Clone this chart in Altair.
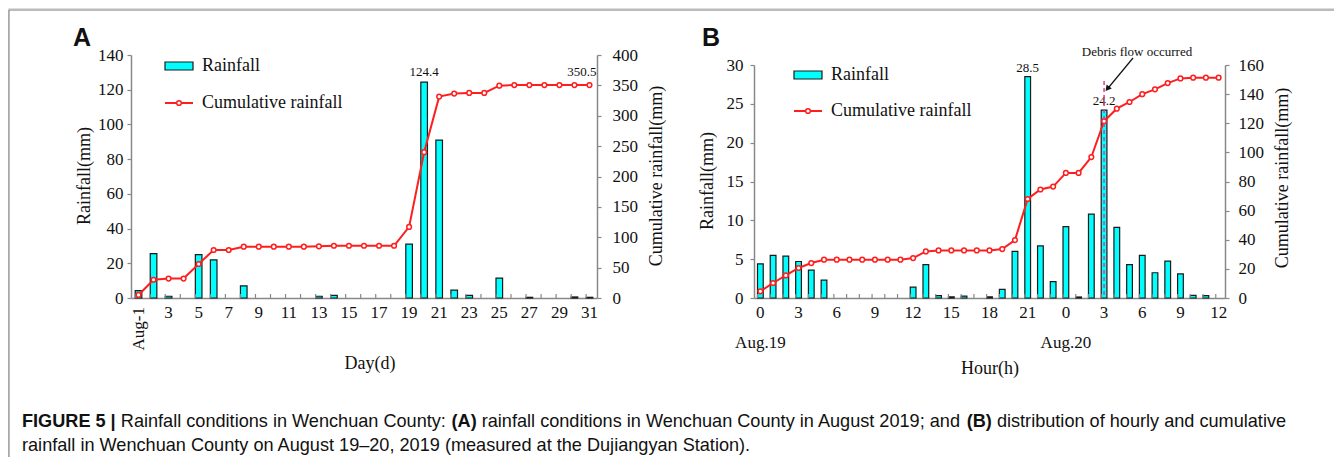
import altair as alt
import pandas as pd

# ---------------- data ----------------
days = list(range(1, 32))
rain_a = [4.2, 25.6, 1.0, 0, 25.0, 22.0, 0, 7.0, 0, 0, 0, 0, 1.0, 1.5, 0, 0, 0, 0,
          31.0, 124.4, 91.0, 4.5, 1.5, 0, 11.5, 0, 0.4, 0, 0, 0.6, 0.4]
cum_a = [5.0, 30.0, 32.0, 32.0, 56.0, 79.0, 79.0, 84.5, 84.5, 84.5, 84.5, 84.5, 85.0, 86.0,
         86.0, 86.0, 86.0, 86.0, 117.0, 240.0, 331.5, 336.5, 337.5, 337.5, 349.5, 350.5,
         350.5, 350.5, 350.5, 350.5, 350.5]

hours = list(range(37))  # Aug.19 0h ... Aug.20 12h
rain_b = [4.4, 5.5, 5.4, 4.7, 3.6, 2.3, 0, 0, 0, 0, 0, 0,
          1.4, 4.3, 0.3, 0.15, 0.25, 0, 0.15, 1.1,
          6.0, 28.5, 6.7, 2.1,
          9.2, 0.13, 10.8, 24.2, 9.1, 4.3, 5.5, 3.25, 4.75, 3.1, 0.35, 0.3, 0]
cum_b = [4.6, 10.3, 15.5, 20.6, 24.0, 26.3, 26.3, 26.3, 26.3, 26.3, 26.3, 26.3,
         27.4, 32.0, 32.7, 32.7, 32.7, 32.7, 32.7, 33.6,
         39.8, 68.0, 74.5, 76.5,
         85.9, 85.9, 96.8, 121.4, 130.0, 134.6, 140.0, 143.3, 147.6, 150.8, 151.3, 151.3, 151.3]

x_ticks_a = list(range(3, 32, 2))
x_ticks_b = list(range(0, 37, 3))
y_ticks_a = list(range(0, 141, 20))
y2_ticks_a = list(range(0, 401, 50))
y_ticks_b = list(range(0, 31, 5))
y2_ticks_b = list(range(0, 161, 20))
date_labels_b = ["Aug.19", "Aug.20"]
date_pos_b = [0, 24]
debris_hour = 27

dfA = pd.DataFrame({"day": days, "rain": rain_a, "cum": cum_a})
dfB = pd.DataFrame({"h": hours, "rain": rain_b, "cum": cum_b})
dfA_bar = dfA[dfA.rain > 0]
dfB_bar = dfB[dfB.rain > 0]
dfDates = pd.DataFrame({"h": date_pos_b, "label": date_labels_b})

# ---------------- geometry (chart coords = page - 8) ----------------
W, H = 1326, 449
AX0, AX1, AYB, AYT = 123, 589, 290, 47
BX0, BX1, BYB, BYT = 746, 1217, 290, 57

SERIF = "Liberation Serif"
SANS = "Liberation Sans"
CYAN = "#00FFFF"
RED = "#FF1E1E"
GRAY = "#888888"
TXT = "#111111"
one = pd.DataFrame({"a": [0]})

xA = alt.Scale(domain=days, range=[AX0, AX1], paddingInner=0.56, paddingOuter=0.28)
yA = alt.Scale(domain=[0, 140], range=[AYB, AYT], nice=False, zero=True)
yA2 = alt.Scale(domain=[0, 400], range=[AYB, AYT], nice=False, zero=True)
xB = alt.Scale(domain=hours, range=[BX0, BX1], paddingInner=0.55, paddingOuter=0.275)
yB = alt.Scale(domain=[0, 30], range=[BYB, BYT], nice=False, zero=True)
yB2 = alt.Scale(domain=[0, 160], range=[BYB, BYT], nice=False, zero=True)

common = dict(domainColor=GRAY, domainWidth=1.5, tickColor=GRAY, tickWidth=1.2,
              labelFont=SERIF, labelFontSize=17, labelColor=TXT, title=None, grid=False)

axA_x = alt.Axis(orient="bottom", offset=AYB - H, values=x_ticks_a, labelAngle=0, ticks=False,
                 tickSize=0, labelPadding=6, labelOverlap=False, **common)
axB_x = alt.Axis(orient="bottom", offset=BYB - H, values=x_ticks_b, labelAngle=0, ticks=False,
                 tickSize=0, labelPadding=6, labelOverlap=False,
                 labelExpr="'' + (datum.value % 24)", **common)
ayA_l = alt.Axis(orient="left", offset=-AX0, values=y_ticks_a, tickSize=4, labelPadding=4, **common)
ayA_r = alt.Axis(orient="right", offset=AX1 - W, values=y2_ticks_a, tickSize=4, labelPadding=11, **common)
ayB_l = alt.Axis(orient="left", offset=-BX0, values=y_ticks_b, tickSize=4, labelPadding=7, **common)
ayB_r = alt.Axis(orient="right", offset=BX1 - W, values=y2_ticks_b, tickSize=4, labelPadding=9, **common)

layers = []

# ---------- Panel A ----------
layers.append(alt.Chart(dfA_bar).mark_bar(fill=CYAN, stroke="#1a1a1a", strokeWidth=1.2).encode(
    x=alt.X("day:O", scale=xA, axis=axA_x),
    y=alt.Y("rain:Q", scale=yA, axis=ayA_l)))
layers.append(alt.Chart(dfA).mark_rule(color=GRAY, strokeWidth=1.2).encode(
    x=alt.X("day:O", scale=xA, axis=None, bandPosition=0),
    y=alt.value(AYB), y2=alt.value(AYB - 4)))
layers.append(alt.Chart(dfA).mark_line(color=RED, strokeWidth=2).encode(
    x=alt.X("day:O", scale=xA, axis=None),
    y=alt.Y("cum:Q", scale=yA2, axis=ayA_r)))
layers.append(alt.Chart(dfA).mark_point(shape="circle", filled=True, fill="white", stroke=RED,
                                        strokeWidth=1.5, size=22, opacity=1).encode(
    x=alt.X("day:O", scale=xA, axis=None),
    y=alt.Y("cum:Q", scale=yA2, axis=None)))
layers.append(alt.Chart(dfA[dfA.day == 20]).mark_text(font=SERIF, fontSize=13, color=TXT,
                                                      baseline="bottom", dy=-3).encode(
    x=alt.X("day:O", scale=xA, axis=None),
    y=alt.Y("rain:Q", scale=yA, axis=None),
    text=alt.Text("rain:Q", format=".1f")))
layers.append(alt.Chart(dfA[dfA.day == 31]).mark_text(font=SERIF, fontSize=13, color=TXT,
                                                      baseline="bottom", align="right", dx=7, dy=-6).encode(
    x=alt.X("day:O", scale=xA, axis=None),
    y=alt.Y("cum:Q", scale=yA2, axis=None),
    text=alt.Text("cum:Q", format=".1f")))
layers.append(alt.Chart(dfA[dfA.day == 1]).mark_text(font=SERIF, fontSize=17, color=TXT, angle=270,
                                                     align="right", baseline="middle").encode(
    x=alt.X("day:O", scale=xA, axis=None),
    y=alt.value(AYB + 9),
    text=alt.value("Aug-1")))

# ---------- Panel B ----------
layers.append(alt.Chart(dfB_bar).mark_bar(fill=CYAN, stroke="#1a1a1a", strokeWidth=1.2).encode(
    x=alt.X("h:O", scale=xB, axis=axB_x),
    y=alt.Y("rain:Q", scale=yB, axis=ayB_l)))
layers.append(alt.Chart(dfB).mark_rule(color=GRAY, strokeWidth=1.2).encode(
    x=alt.X("h:O", scale=xB, axis=None, bandPosition=0),
    y=alt.value(BYB), y2=alt.value(BYB - 4)))
layers.append(alt.Chart(dfB).mark_line(color=RED, strokeWidth=2).encode(
    x=alt.X("h:O", scale=xB, axis=None),
    y=alt.Y("cum:Q", scale=yB2, axis=ayB_r)))
layers.append(alt.Chart(dfB).mark_point(shape="circle", filled=True, fill="white", stroke=RED,
                                        strokeWidth=1.5, size=22, opacity=1).encode(
    x=alt.X("h:O", scale=xB, axis=None),
    y=alt.Y("cum:Q", scale=yB2, axis=None)))
layers.append(alt.Chart(dfB[dfB.h.isin([21, debris_hour])]).mark_text(
    font=SERIF, fontSize=13, color=TXT, baseline="bottom", dy=-2).encode(
    x=alt.X("h:O", scale=xB, axis=None),
    y=alt.Y("rain:Q", scale=yB, axis=None),
    text=alt.Text("rain:Q", format=".1f")))
layers.append(alt.Chart(dfB[dfB.h == debris_hour]).mark_rule(color="#E8388A", strokeWidth=1.5,
                                                             strokeDash=[4, 3]).encode(
    x=alt.X("h:O", scale=xB, axis=None),
    y=alt.value(73), y2=alt.value(BYB)))
layers.append(alt.Chart(dfDates).mark_text(font=SERIF, fontSize=17, color=TXT, baseline="middle").encode(
    x=alt.X("h:O", scale=xB, axis=None),
    y=alt.value(335),
    text="label:N"))

# arrow + annotation
layers.append(alt.Chart(one).mark_rule(color="#111", strokeWidth=1.2).encode(
    x=alt.value(1125), y=alt.value(50), x2=alt.value(1101), y2=alt.value(79)))
layers.append(alt.Chart(one).mark_point(shape="triangle", filled=True, color="#111", size=45,
                                        angle=219, opacity=1).encode(
    x=alt.value(1100), y=alt.value(80)))
layers.append(alt.Chart(one).mark_text(font=SERIF, fontSize=13, color=TXT).encode(
    x=alt.value(1129), y=alt.value(44), text=alt.value("Debris flow occurred")))

# ---------- legends ----------
for (lx, ly1, ly2) in [(157, 58, 95), (786, 67, 103)]:
    layers.append(alt.Chart(one).mark_rect(fill=CYAN, stroke="#1a1a1a", strokeWidth=1.2).encode(
        x=alt.value(lx), x2=alt.value(lx + 28), y=alt.value(ly1 - 4), y2=alt.value(ly1 + 4)))
    layers.append(alt.Chart(one).mark_rule(color=RED, strokeWidth=2).encode(
        x=alt.value(lx), x2=alt.value(lx + 28), y=alt.value(ly2)))
    layers.append(alt.Chart(one).mark_point(shape="circle", filled=True, fill="white", stroke=RED,
                                            strokeWidth=1.5, size=22, opacity=1).encode(
        x=alt.value(lx + 14), y=alt.value(ly2)))
    layers.append(alt.Chart(one).mark_text(font=SERIF, fontSize=18, color=TXT, align="left",
                                           baseline="middle").encode(
        x=alt.value(lx + 37), y=alt.value(ly1), text=alt.value("Rainfall")))
    layers.append(alt.Chart(one).mark_text(font=SERIF, fontSize=18, color=TXT, align="left",
                                           baseline="middle").encode(
        x=alt.value(lx + 37), y=alt.value(ly2), text=alt.value("Cumulative rainfall")))

# ---------- axis titles ----------
def txt(x, y, s, size=18, angle=0, font=SERIF, weight="normal", align="center"):
    kw = dict(font=font, fontSize=size, color=TXT, align=align, baseline="middle", fontWeight=weight)
    if angle:
        kw["angle"] = angle
    return alt.Chart(one).mark_text(**kw).encode(x=alt.value(x), y=alt.value(y), text=alt.value(s))

layers.append(txt(77, 168, "Rainfall(mm)", angle=270))
layers.append(txt(649, 168, "Cumulative rainfall(mm)", angle=270))
layers.append(txt(362, 356, "Day(d)"))
layers.append(txt(700, 173, "Rainfall(mm)", angle=270))
layers.append(txt(1275, 170, "Cumulative rainfall(mm)", angle=270))
layers.append(txt(982, 361, "Hour(h)"))
layers.append(txt(74, 30, "A", size=25, font=SANS, weight="bold"))
layers.append(txt(703, 30, "B", size=25, font=SANS, weight="bold"))

# ---------- border ----------
layers.append(alt.Chart(one).mark_rule(color="#777", strokeWidth=1).encode(
    x=alt.value(1), x2=alt.value(W), y=alt.value(2)))
layers.append(alt.Chart(one).mark_rule(color="#777", strokeWidth=1).encode(
    x=alt.value(1), y=alt.value(2), y2=alt.value(H)))

# ---------- caption ----------
AR = {" ": 278, "(": 333, ")": 333, ",": 278, "-": 333, ".": 278, ":": 278, ";": 278, "|": 260,
      "\u2013": 556,
      "A": 667, "B": 667, "C": 722, "D": 722, "E": 667, "F": 611, "G": 778, "H": 722, "I": 278,
      "J": 500, "K": 667, "L": 556, "M": 833, "N": 722, "O": 778, "P": 667, "R": 722, "S": 667,
      "T": 611, "U": 722, "W": 944,
      "a": 556, "b": 556, "c": 500, "d": 556, "e": 556, "f": 278, "g": 556, "h": 556, "i": 222,
      "j": 222, "k": 500, "l": 222, "m": 833, "n": 556, "o": 556, "p": 556, "q": 556, "r": 333,
      "s": 500, "t": 278, "u": 556, "v": 500, "w": 722, "x": 500, "y": 500, "z": 500}
ARB = {"A": 722, "B": 722, "E": 667, "F": 611, "G": 778, "I": 278, "R": 722, "U": 722,
       "|": 280, ":": 333, "(": 333, ")": 333, " ": 278}


def tw(s, bold):
    tot = 0
    for c in s:
        if bold and c in ARB:
            tot += ARB[c]
        else:
            tot += AR.get(c, 556)
    return tot / 1000.0


line1 = [("FIGURE 5 |", True), (" Rainfall conditions in Wenchuan County:", False), (" (A)", True),
         (" rainfall conditions in Wenchuan County in August 2019; and", False), (" (B)", True),
         (" distribution of hourly and cumulative", False)]
line2 = [("rainfall in Wenchuan County on August 19\u201320, 2019 (measured at the Dujiangyan Station).", False)]

CAP_FONT = SANS
fs = 730.0 / tw(line2[0][0], False)
for segs, yy in [(line1, 414), (line2, 438)]:
    x = 14.0
    for s, b in segs:
        lead = len(s) - len(s.lstrip(" "))
        x += tw(" " * lead, b) * fs
        st = s.lstrip(" ")
        layers.append(txt(round(x, 1), yy, st, size=round(fs, 2), font=CAP_FONT,
                          weight="bold" if b else "normal", align="left"))
        x += tw(st, b) * fs

chart = alt.layer(*layers).resolve_scale(x="independent", y="independent").properties(
    width=W, height=H, autosize=alt.AutoSizeParams(type="none"), padding=0
).configure_view(stroke=None).configure(background="white")

chart.save("out.html", embed_options={"renderer": "svg", "actions": False})
